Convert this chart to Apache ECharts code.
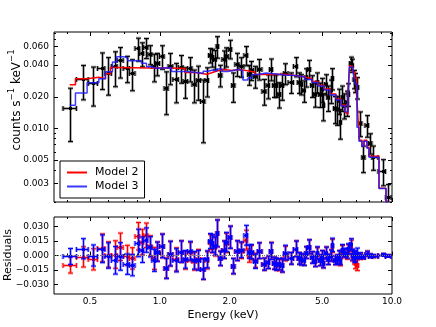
<!DOCTYPE html>
<html><head><meta charset="utf-8">
<script src="https://cdn.jsdelivr.net/npm/echarts@6/dist/echarts.min.js"></script>
<style>html,body{margin:0;padding:0;background:#fff}#c{width:436px;height:327px}</style>
</head><body><div id="c"></div>
<script>
// ---- data ----
const energy = [0.409,0.467,0.517,0.561,0.599,0.638,0.672,0.719,0.760,0.804,
0.834,0.870,0.906,0.942,0.975,1.020,1.067,1.104,1.172,1.232,
1.288,1.347,1.404,1.466,1.529,1.599,1.643,1.680,1.726,1.769,
1.814,1.887,1.935,2.009,2.068,2.143,2.245,2.360,2.419,2.480,
2.580,2.685,2.821,2.915,3.018,3.100,3.178,3.259,3.367,3.458,
3.681,3.846,3.973,4.045,4.176,4.251,4.388,4.534,4.657,4.764,
4.894,5.007,5.067,5.178,5.298,5.442,5.529,5.662,5.776,5.910,
5.987,6.107,6.211,6.380,6.476,6.637,6.737,6.858,6.961,7.051,
7.315,7.520,7.778,8.077,8.305,9.120,9.640];
const counts = [0.0158,0.0292,0.0273,0.0378,0.0339,0.0392,0.0444,0.0378,0.0339,0.0578,
0.0518,0.0588,0.0507,0.0392,0.0416,0.0488,0.0240,0.0388,0.0295,0.0381,
0.0285,0.0374,0.0267,0.0288,0.0181,0.0288,0.0496,0.0474,0.0455,0.0605,
0.0323,0.0454,0.0483,0.0573,0.0257,0.0414,0.0388,0.0497,0.0327,0.0359,
0.0315,0.0370,0.0229,0.0257,0.0370,0.0260,0.0260,0.0214,0.0257,0.0336,
0.0276,0.0390,0.0276,0.0266,0.0230,0.0308,0.0370,0.0257,0.0214,0.0276,
0.0214,0.0238,0.0166,0.0266,0.0199,0.0230,0.0301,0.0156,0.0154,0.0186,
0.0115,0.0199,0.0168,0.0178,0.0214,0.0416,0.0398,0.0297,0.0276,0.0247,
0.01135,0.0053,0.01075,0.0073,0.0054,0.00395,0.00223];
const countErr = [0.0083,0.0105,0.011,0.0144,0.0132,0.0143,0.0143,0.0106,0.0111,0.0143,
0.0133,0.0127,0.0105,0.0115,0.010,0.0123,0.0105,0.0128,0.012,0.0112,
0.0092,0.0097,0.0092,0.0103,0.0108,0.0089,0.0078,0.0092,0.0095,0.014,
0.0075,0.0091,0.010,0.0115,0.008,0.0103,0.0082,0.0103,0.007,0.0074,
0.0074,0.0082,0.0063,0.0066,0.0087,0.0063,0.0063,0.0058,0.0072,0.0076,
0.0061,0.0081,0.0061,0.0058,0.0053,0.0061,0.0073,0.006,0.0055,0.0061,
0.0056,0.0061,0.0048,0.0058,0.0054,0.0058,0.0069,0.0045,0.0047,0.005,
0.0036,0.0054,0.0045,0.0048,0.0052,0.006,0.0057,0.0059,0.0057,0.0057,
0.003,0.0015,0.0025,0.0016,0.0014,0.0011,0.0007];
const resid3 = [-0.001,0.007,0.000,0.007,0.000,-0.005,-0.001,-0.009,-0.010,0.013,
0.006,0.016,0.009,-0.005,0.004,0.010,-0.0135,0.002,-0.005,0.004,
-0.004,0.005,-0.005,-0.005,-0.014,-0.004,0.015,0.0125,0.010,0.023,
-0.003,0.006,0.014,0.019,-0.011,0.005,0.006,0.021,0.004,0.004,
-0.006,0.005,-0.009,-0.007,0.0045,-0.008,-0.009,-0.009,-0.010,0.003,
-0.003,0.007,-0.003,-0.004,-0.005,0.003,0.009,-0.002,-0.006,0.003,
-0.005,-0.001,-0.008,0.003,-0.004,0.000,0.011,-0.005,-0.004,0.000,
-0.006,0.006,0.003,0.002,0.007,0.0115,0.001,-0.001,-0.001,0.002,
0.000,-0.0015,0.002,0.000,-0.0004,0.001,0.000];
const resid2 = [-0.010,-0.0015,-0.004,0.008,0.001,0.001,0.009,0.000,-0.003,0.020,
0.014,0.021,0.010,-0.003,0.004,0.010,-0.013,0.002,-0.004,0.004,
-0.005,0.004,-0.006,-0.004,-0.014,-0.005,0.014,0.012,0.009,0.023,
-0.003,0.006,0.013,0.019,-0.011,0.005,0.005,0.016,0.000,0.003,
-0.005,0.005,-0.009,-0.007,0.005,-0.008,-0.009,-0.010,-0.010,0.002,
-0.003,0.007,-0.003,-0.004,-0.005,0.003,0.009,-0.002,-0.006,0.002,
-0.005,-0.001,-0.008,0.003,-0.004,0.000,0.010,-0.005,-0.004,0.000,
-0.007,0.005,0.002,0.001,0.006,0.010,0.000,-0.003,-0.008,-0.010,
-0.001,-0.002,0.002,0.000,-0.001,0.001,0.000];
const model2E = [0.409,0.433,0.486,0.546,0.583,0.613,0.653,0.906,1.104,1.282,
1.415,1.594,1.659,1.761,1.887,2.043,2.213,2.348,2.568,2.921,
3.458,3.819,4.217,4.521,4.798,5.092,5.404,5.737,6.028,6.272,
6.397,6.461,6.558,6.756,6.892,7.031,7.137,7.244,7.425,7.574,
7.802,7.959,8.790,9.421,9.640];
const model2 = [0.0260,0.0297,0.0306,0.0297,0.0331,0.0379,0.0375,0.0375,0.0371,0.0340,
0.0327,0.0336,0.0351,0.0363,0.0355,0.0363,0.0355,0.0344,0.0325,0.0327,
0.0318,0.0308,0.0295,0.0279,0.0258,0.0237,0.0212,0.0190,0.0167,0.0143,
0.0137,0.0212,0.0392,0.0344,0.0301,0.0222,0.01253,0.00774,0.00678,0.00774,
0.00664,0.00545,0.00270,0.00203,0.00203];
const model3E = [0.409,0.433,0.486,0.546,0.583,0.625,0.651,0.700,0.728,0.834,
0.876,0.921,0.968,1.123,1.303,1.537,1.610,1.692,1.761,1.850,
1.964,2.169,2.279,2.395,2.493,2.645,2.864,3.458,3.819,4.217,
4.521,4.798,5.092,5.404,5.737,6.028,6.272,6.397,6.461,6.558,
6.790,6.926,7.066,7.208,7.425,7.574,7.802,7.959,8.790,9.421,9.640];
const model3 = [0.0166,0.0217,0.0272,0.0297,0.0346,0.0428,0.0481,0.0464,0.0440,0.0416,
0.0386,0.0373,0.0378,0.0348,0.0334,0.0349,0.0359,0.0351,0.0367,0.0348,
0.0363,0.0355,0.0288,0.0301,0.0325,0.0336,0.0322,0.0318,0.0308,0.0292,
0.0273,0.0253,0.0232,0.0208,0.0186,0.0163,0.01445,0.0143,0.0208,0.0384,
0.0344,0.0264,0.01029,0.00757,0.00678,0.00757,0.00649,0.00533,0.00268,0.0020,0.0020];
const xTickLabels = [0.5, 1.0, 2.0, 5.0, 10.0];
const xMinorTicks = [0.4, 0.6, 0.7, 0.8, 0.9, 3, 4, 6, 7, 8, 9];
const yTickLabels = [0.003, 0.005, 0.010, 0.020, 0.040, 0.060];
const yMinorTicks = [0.002, 0.004, 0.006, 0.007, 0.008, 0.009, 0.03, 0.05, 0.07, 0.08];
const residTickLabels = [-0.030, -0.015, 0.000, 0.015, 0.030];

// ---- build ----
const FONT = 'DejaVu Sans';
const n = energy.length;
const binLo = [], binHi = [];
for (let i = 0; i < n; i++) {
  binLo.push(i > 0 ? Math.sqrt(energy[i-1]*energy[i]) : energy[0]*Math.sqrt(energy[0]/energy[1]));
  binHi.push(i < n-1 ? Math.sqrt(energy[i]*energy[i+1]) : energy[n-1]*Math.sqrt(energy[n-1]/energy[n-2]));
}
const dataPts = energy.map((e,i)=>[e, counts[i], countErr[i], binLo[i], binHi[i]]);
const res3Pts = energy.map((e,i)=>[e, resid3[i], countErr[i], binLo[i], binHi[i]]);
const res2Pts = energy.map((e,i)=>[e, resid2[i], countErr[i], binLo[i], binHi[i]]);

function makeRender(core, halo, mark, isLog) {
  return function (params, api) {
    const x = api.value(0), y = api.value(1), e = api.value(2), xl = api.value(3), xh = api.value(4);
    const p = api.coord([x, y]);
    const yt = api.coord([x, y + e])[1];
    const ylo = y - e;
    const yb = api.coord([x, isLog ? (ylo > 0 ? ylo : 1e-4) : ylo])[1];
    const xL = api.coord([xl, y])[0], xH = api.coord([xh, y])[0];
    const cx = Math.round(p[0]) + 0.5, cy = Math.round(p[1]) + 0.5;
    const c = 2.5;
    const segs = [[cx,yt,cx,yb],[cx-c,yt,cx+c,yt],[cx-c,yb,cx+c,yb],
                  [xL,cy,xH,cy],[xL,cy-c,xL,cy+c],[xH,cy-c,xH,cy+c]];
    const ch = [];
    segs.forEach(s=>ch.push({type:'line',shape:{x1:s[0],y1:s[1],x2:s[2],y2:s[3]},style:{stroke:halo,lineWidth:3}}));
    segs.forEach(s=>ch.push({type:'line',shape:{x1:s[0],y1:s[1],x2:s[2],y2:s[3]},style:{stroke:core,lineWidth:1}}));
    ch.push({type:'rect',shape:{x:cx-1.5,y:cy-1.5,width:3,height:3},style:{fill:mark}});
    return {type:'group', children: ch};
  };
}

function xAx(grid, pos, ticks, len, labels) {
  return {type:'log', logBase:10, gridIndex:grid, position:pos, min:0.35, max:10,
    axisLine:{show:false},
    axisTick:{show:true, inside:true, length:len, customValues:ticks, lineStyle:{color:'#000',width:1}},
    axisLabel:{show:!!labels, customValues:labels||ticks, formatter:v=>Number(v).toFixed(1),
      margin:3, fontSize:9, color:'#000', fontFamily:FONT},
    splitLine:{show:false}, minorTick:{show:false}};
}
function yLogAx(pos, ticks, len, labels) {
  return {type:'log', logBase:10, gridIndex:0, position:pos, min:0.002, max:0.0825,
    axisLine:{show:false},
    axisTick:{show:true, inside:true, length:len, customValues:ticks, lineStyle:{color:'#000',width:1}},
    axisLabel:{show:!!labels, customValues:labels||ticks, formatter:v=>Number(v).toFixed(3),
      margin:5, fontSize:9, color:'#000', fontFamily:FONT},
    splitLine:{show:false}, minorTick:{show:false}};
}
function yResAx(pos, labels) {
  return {type:'value', gridIndex:1, position:pos, min:-0.04, max:0.04,
    axisLine:{show:false},
    axisTick:{show:true, inside:true, length:4, customValues:residTickLabels, lineStyle:{color:'#000',width:1}},
    axisLabel:{show:labels, customValues:residTickLabels,
      formatter:v=>(v < -1e-9 ? '\u2212' : '') + Math.abs(v).toFixed(3),
      margin:5, fontSize:9, color:'#000', fontFamily:FONT},
    splitLine:{show:false}};
}

const chart = echarts.init(document.getElementById('c'), null, {renderer:'canvas'});
chart.setOption({
  animation:false,
  backgroundColor:'#fff',
  grid:[
    {left:54, top:32, width:338, height:170, show:true, borderColor:'#000', borderWidth:1, backgroundColor:'transparent'},
    {left:54, top:217, width:338, height:77, show:true, borderColor:'#000', borderWidth:1, backgroundColor:'transparent'}
  ],
  xAxis:[
    xAx(0,'bottom',xTickLabels,4,null), xAx(0,'bottom',xMinorTicks,2,null),
    xAx(0,'top',xTickLabels,4,null), xAx(0,'top',xMinorTicks,2,null),
    xAx(1,'bottom',xTickLabels,4,xTickLabels), xAx(1,'bottom',xMinorTicks,2,null),
    xAx(1,'top',xTickLabels,4,null), xAx(1,'top',xMinorTicks,2,null)
  ],
  yAxis:[
    yLogAx('left',yTickLabels,4,yTickLabels), yLogAx('left',yMinorTicks,2,null),
    yLogAx('right',yTickLabels,4,null), yLogAx('right',yMinorTicks,2,null),
    yResAx('left',true), yResAx('right',false)
  ],
  legend:{data:['Model 2','Model 3'], orient:'vertical', left:60, top:161,
    icon:'rect', itemWidth:20, itemHeight:2, itemGap:1, padding:[5,6,5,7],
    borderColor:'#000', borderWidth:1, backgroundColor:'#fff',
    textStyle:{fontSize:11, fontFamily:FONT, color:'#000', lineHeight:13, padding:[0,0,0,3]}},
  graphic:[
    {type:'text', x:15, y:100, rotation:Math.PI/2,
      style:{text:'{a|counts s}{s|\u22121}{a| keV}{s|\u22121}', align:'center', verticalAlign:'middle',
        rich:{a:{fontSize:12, fontFamily:FONT, fill:'#000', lineHeight:15, verticalAlign:'bottom'},
              s:{fontSize:8.5, fontFamily:FONT, fill:'#000', lineHeight:10, verticalAlign:'top'}}}},
    {type:'text', x:8, y:255, rotation:Math.PI/2,
      style:{text:'Residuals', align:'center', verticalAlign:'middle', fontSize:11, fontFamily:FONT, fill:'#000'}},
    {type:'text', x:223, y:315,
      style:{text:'Energy (keV)', align:'center', verticalAlign:'middle', fontSize:11, fontFamily:FONT, fill:'#000'}}
  ],
  series:[
    {type:'custom', name:'data', xAxisIndex:0, yAxisIndex:0, clip:true, z:2,
      renderItem:makeRender('#000','rgba(0,0,0,0.3)','#000',true), data:dataPts,
      encode:{x:0,y:1}},
    {type:'line', name:'Model 2', xAxisIndex:0, yAxisIndex:0, step:'end', symbol:'none', clip:true, z:3,
      lineStyle:{color:'#ff0000', width:1.5}, itemStyle:{color:'#ff0000'},
      data:model2E.map((e,i)=>[e, model2[i]])},
    {type:'line', name:'Model 3', xAxisIndex:0, yAxisIndex:0, step:'end', symbol:'none', clip:true, z:4,
      lineStyle:{color:'#1a1aff', width:1.5, opacity:0.85}, itemStyle:{color:'#3a3aff'},
      data:model3E.map((e,i)=>[e, model3[i]])},
    {type:'custom', name:'res2', xAxisIndex:4, yAxisIndex:4, clip:true, z:2,
      renderItem:makeRender('#ff0000','rgba(255,0,0,0.3)','#ff0000',false), data:res2Pts,
      encode:{x:0,y:1},
      markLine:{silent:true, symbol:'none', label:{show:false}, data:[{yAxis:0}],
        lineStyle:{color:'#777', type:'dotted', width:1}}},
    {type:'custom', name:'res3', xAxisIndex:4, yAxisIndex:4, clip:true, z:3,
      renderItem:makeRender('#0000ff','rgba(0,0,255,0.3)','#0000ff',false), data:res3Pts,
      encode:{x:0,y:1}}
  ]
});
</script></body></html>
